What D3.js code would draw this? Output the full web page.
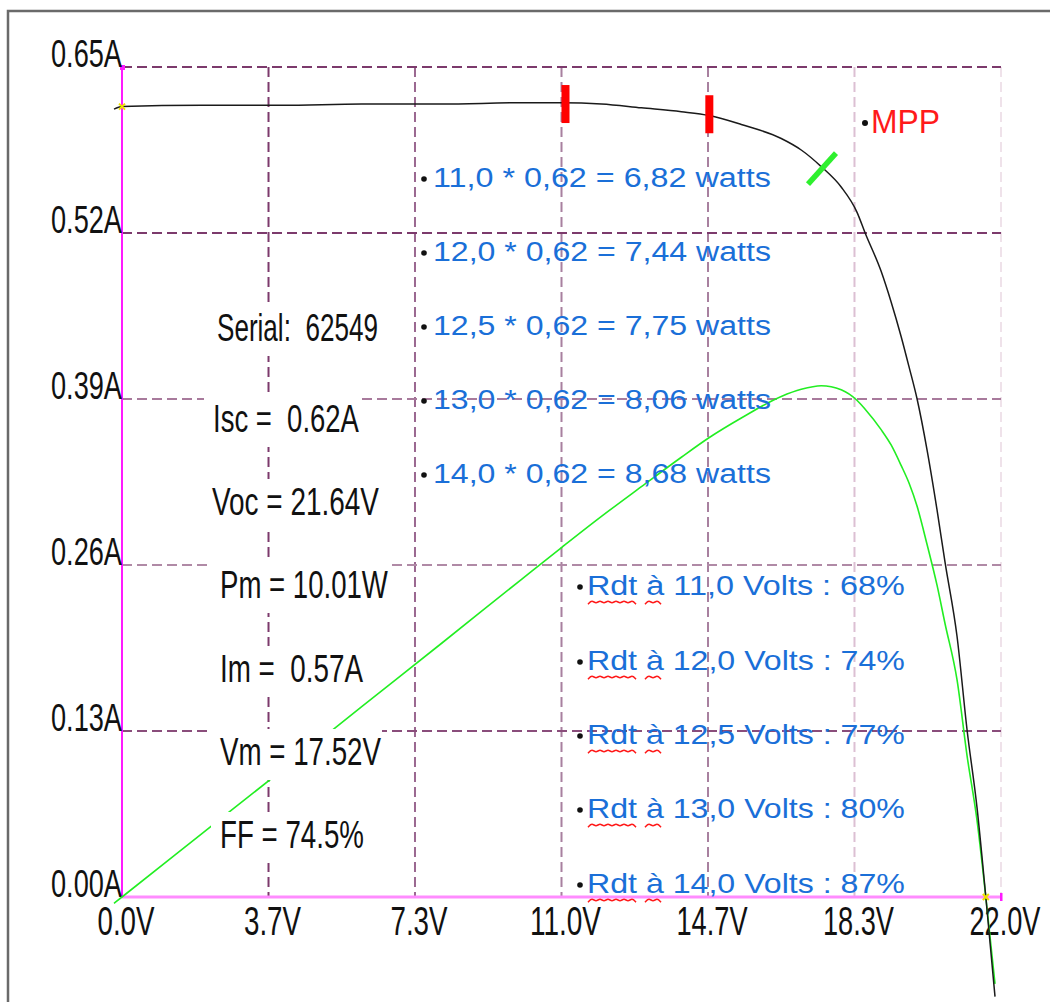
<!DOCTYPE html>
<html>
<head>
<meta charset="utf-8">
<script src="https://cdn.jsdelivr.net/npm/d3@7"></script>
<style>
  body { margin: 0; background: #fff; }
  svg { display: block; }
  text { font-family: "Liberation Sans", Arial, sans-serif; white-space: pre; }
</style>
</head>
<body>
<div id="chart"></div>
<script>
"use strict"

// I-V sweep of the panel (volts / amps)
let voltage = [-0.2, 0, 2, 4, 6, 8, 10, 11, 12, 13, 14, 14.7, 15.5, 16.5, 17.0, 17.5, 18.0, 18.4, 18.6,
               19.0, 19.25, 19.5, 19.7, 19.9, 20.15, 20.4, 20.6, 20.9, 21.15, 21.4, 21.62, 21.85];
let current = [0.617, 0.619, 0.620, 0.620, 0.621, 0.621, 0.622, 0.622, 0.621, 0.618, 0.615, 0.612, 0.605, 0.594, 0.585, 0.572, 0.556, 0.536, 0.520,
               0.490, 0.466, 0.439, 0.415, 0.390, 0.350, 0.303, 0.262, 0.204, 0.131, 0.070, 0.000, -0.078];
// power curve (watts), green trace
let power = [-0.123, 0, 1.24, 2.48, 3.726, 4.968, 6.22, 6.842, 7.452, 8.034, 8.61, 8.996, 9.378, 9.80, 9.94, 10.01, 9.93, 9.72, 9.55,
             9.15, 8.85, 8.45, 8.10, 7.65, 6.90, 6.10, 5.35, 4.25, 2.77, 1.50, 0, -1.70];

let xTickValues = [0, 3.667, 7.333, 11, 14.667, 18.333, 22];
let xTickLabels = ["0.0V", "3.7V", "7.3V", "11.0V", "14.7V", "18.3V", "22.0V"];
let yTickValues = [0, 0.13, 0.26, 0.39, 0.52, 0.65];
let yTickLabels = ["0.00A", "0.13A", "0.26A", "0.39A", "0.52A", "0.65A"];

let summaryLabels = ["Serial:  62549", "Isc =  0.62A", "Voc = 21.64V", "Pm = 10.01W", "Im =  0.57A", "Vm = 17.52V", "FF = 74.5%"];
let wattLabels = ["11,0 * 0,62 = 6,82 watts", "12,0 * 0,62 = 7,44 watts", "12,5 * 0,62 = 7,75 watts",
                  "13,0 * 0,62 = 8,06 watts", "14,0 * 0,62 = 8,68 watts"];
let rdtLabels = ["Rdt à 11,0 Volts : 68%", "Rdt à 12,0 Volts : 74%", "Rdt à 12,5 Volts : 77%",
                 "Rdt à 13,0 Volts : 80%", "Rdt à 14,0 Volts : 87%"];

let markerVoltages = [11.1, 14.7];
let markerCurrents = [0.621, 0.613];
let mppVoltage = 17.52;
let mppCurrent = 0.57;
let vocVoltage = 21.62;
let iscCurrent = 0.619;

// ---- layout
let W = 1050, H = 1002;
let svg = d3.select("#chart").append("svg").attr("width", W).attr("height", H);

let x = d3.scaleLinear().domain([0, 22]).range([122, 1001]);
let y = d3.scaleLinear().domain([0, 0.65]).range([897, 67]);
// power is drawn on the same frame, 25 W per amp
let yP = d3.scaleLinear().domain([0, 16.25]).range([897, 67]);

// frame
svg.append("path").attr("d", "M8,1002 V11 H1050")
    .attr("fill", "none").attr("stroke", "#6a6a6a").attr("stroke-width", 2.5);

// text stretched/squeezed horizontally to the width it has in the screenshot
function squeezed(g, str, px, py, len, size, color){
    let t = g.append("text")
        .attr("x", 0).attr("y", 0)
        .style("font-size", size + "px")
        .attr("fill", color)
        .text(str);
    let natural = t.node().getComputedTextLength();
    t.attr("transform", "translate(" + px + "," + py + ") scale(" + (len / natural) + ",1)");
    return t;
}

// grid
let vGridColors = ["none", "#7c3a6c", "#9a6890", "#a8809f", "#a8809f", "#dcc0d3", "#efe2ea"];
let hGridColors = ["none", "#8a4d7b", "#b08aa6", "#a87a9c", "#7c3a6c", "#7c3a6c"];
let grid = svg.append("g");
xTickValues.forEach(function(v, i){
    if(i == 0) return;
    grid.append("line")
        .attr("x1", x(v)).attr("x2", x(v))
        .attr("y1", y(0.65)).attr("y2", y(0))
        .attr("stroke", vGridColors[i]).attr("stroke-width", 2)
        .attr("stroke-dasharray", "10,5");
})
yTickValues.forEach(function(v, i){
    if(i == 0) return;
    grid.append("line")
        .attr("x1", x(0)).attr("x2", x(22))
        .attr("y1", y(v)).attr("y2", y(v))
        .attr("stroke", hGridColors[i]).attr("stroke-width", 2)
        .attr("stroke-dasharray", "10,5");
})

// axes
svg.append("line")
    .attr("x1", x(0)).attr("x2", x(22)).attr("y1", y(0)).attr("y2", y(0))
    .attr("stroke", "#ff8cff").attr("stroke-width", 3);
svg.append("line")
    .attr("x1", x(0)).attr("x2", x(0)).attr("y1", y(0.65)).attr("y2", y(0))
    .attr("stroke", "#ff1aff").attr("stroke-width", 2);
svg.append("rect").attr("x", x(0) - 2).attr("y", y(0.65) - 2).attr("width", 5).attr("height", 5).attr("fill", "#ff1aff");
svg.append("rect").attr("x", x(22) - 1).attr("y", y(0) - 4).attr("width", 2.5).attr("height", 8).attr("fill", "#ff1aff");

// tick labels
let yLabelW = 71;
yTickValues.forEach(function(v, i){
    squeezed(svg, yTickLabels[i], x(0) - yLabelW, y(v), yLabelW, 39, "#111");
})
xTickValues.forEach(function(v, i){
    let len = xTickLabels[i].length > 4 ? 71 : 57;
    squeezed(svg, xTickLabels[i], x(v) + 4 - len / 2, 935, len, 40, "#111");
})

// curves
let ivPoints = voltage.map(function(v, i){ return [v, current[i]]; });
let pvPoints = voltage.map(function(v, i){ return [v, power[i]]; });

svg.append("path")
    .datum(pvPoints)
    .attr("fill", "none").attr("stroke", "#22ee22").attr("stroke-width", 1.6)
    .attr("d", d3.line().x(d => x(d[0])).y(d => yP(d[1])).curve(d3.curveMonotoneX));

svg.append("path")
    .datum(ivPoints)
    .attr("fill", "none").attr("stroke", "#1a1a1a").attr("stroke-width", 1.5)
    .attr("d", d3.line().x(d => x(d[0])).y(d => y(d[1])).curve(d3.curveMonotoneX));

// red voltage markers on the curve
markerVoltages.forEach(function(v, i){
    svg.append("rect")
        .attr("x", x(v) - 4).attr("y", y(markerCurrents[i]) - 19)
        .attr("width", 8).attr("height", 38)
        .attr("fill", "#ff0000");
})

// MPP slash
svg.append("line")
    .attr("x1", x(mppVoltage) - 14).attr("y1", y(mppCurrent) + 15)
    .attr("x2", x(mppVoltage) + 14).attr("y2", y(mppCurrent) - 16)
    .attr("stroke", "#2ef02e").attr("stroke-width", 5.5);

// yellow end markers
[[0, iscCurrent], [vocVoltage, 0]].forEach(function(p){
    svg.append("path")
        .attr("d", "M" + (x(p[0]) - 3) + "," + (y(p[1]) - 3) + "l6,6 M" + (x(p[0]) + 3) + "," + (y(p[1]) - 3) + "l-6,6")
        .attr("stroke", "#f0e000").attr("stroke-width", 2);
})

// MPP label
svg.append("circle").attr("cx", 865).attr("cy", 123).attr("r", 3).attr("fill", "#111");
squeezed(svg, "MPP", 871, 133, 69, 33, "#ff1a1a");

// summary block with white boxes
let sumX = [217, 213, 212, 220, 220, 220, 220];
let sumY = [341, 432, 515, 598, 682, 765, 848];
let sumW = [161, 146, 167, 168, 143, 161, 144];
summaryLabels.forEach(function(s, i){
    svg.append("rect")
        .attr("x", sumX[i] - 9).attr("y", sumY[i] - 36)
        .attr("width", sumW[i] + 10).attr("height", 51)
        .attr("fill", "#fff");
    squeezed(svg, s, sumX[i], sumY[i], sumW[i], 39, "#111");
})

// blue annotations
let blue = "#1a6fd8";
let wattY = [187, 261, 335, 409, 483];
wattLabels.forEach(function(s, i){
    svg.append("circle").attr("cx", 424).attr("cy", wattY[i] - 8).attr("r", 2.8).attr("fill", "#111");
    squeezed(svg, s, 433, wattY[i], 338, 28, blue);
})

let rdtY = [595, 670, 744, 818, 893];
let wave = d3.line().curve(d3.curveBasis);
function squiggle(x0, x1, yb){
    let pts = [];
    for(let k = 0; x0 + k * 4 <= x1 + 1; k++){
        pts.push([x0 + k * 4, yb + (k % 2 == 0 ? 2.2 : -2.2)]);
    }
    svg.append("path").attr("d", wave(pts)).attr("fill", "none").attr("stroke", "#ff1a1a").attr("stroke-width", 1.5);
}
rdtLabels.forEach(function(s, i){
    svg.append("circle").attr("cx", 580).attr("cy", rdtY[i] - 8).attr("r", 2.8).attr("fill", "#111");
    squeezed(svg, s, 587, rdtY[i], 318, 28, blue);
    squiggle(588, 636, rdtY[i] + 7);
    squiggle(645, 662, rdtY[i] + 7);
})
</script>
</body>
</html>
